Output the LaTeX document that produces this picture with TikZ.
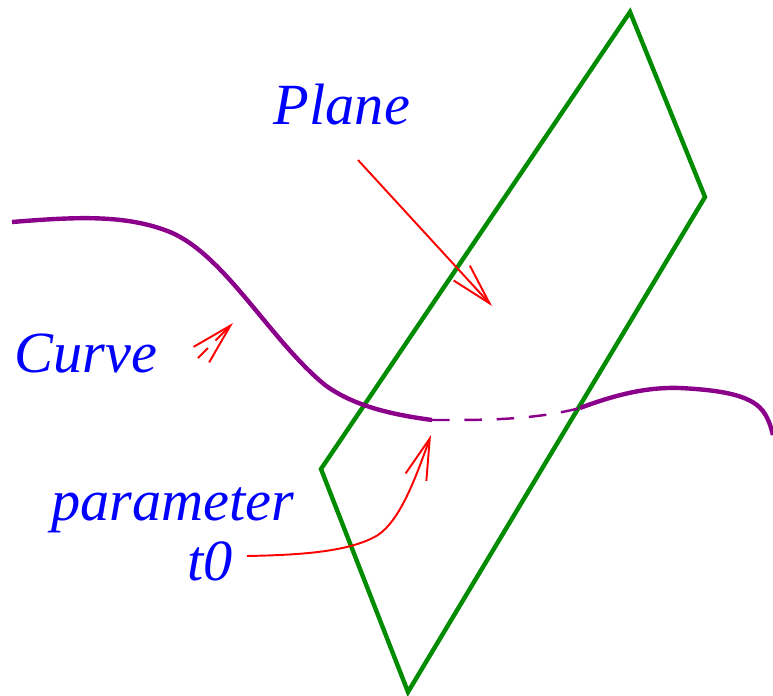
\documentclass[tikz,border=0pt]{standalone}
\usepackage{fontspec}
\setmainfont{Liberation Serif}
\usetikzlibrary{arrows.meta,positioning,calc}
\definecolor{ctPlane}{HTML}{008B00}
\definecolor{ctCurve}{HTML}{8B008B}
\definecolor{ctText}{HTML}{0000FF}
\definecolor{ctArrow}{HTML}{FF0000}

\begin{document}
\begin{tikzpicture}[scale=1.0,every node/.style={font=\fontsize{16.6pt}{20pt}\selectfont\itshape,text=ctText,inner sep=0pt,anchor=base},>={Straight Barb[length=4.1mm,width=2.2mm]}]
  \useasboundingbox (0,0) rectangle (7.73,6.95);
  % plane
  \draw[ctPlane,line width=1.25pt,line join=miter] (6.30,6.83) -- (7.05,4.98) -- (4.08,0.03) -- (3.21,2.26) -- cycle;
  % curve, in front and behind
  \draw[ctCurve,line width=1.25pt] (0.12,4.73) .. controls (0.75,4.78) and (1.25,4.81) .. (1.70,4.63)
    .. controls (2.25,4.40) and (2.70,3.55) .. (3.25,3.10)
    .. controls (3.55,2.88) and (3.95,2.80) .. (4.32,2.75);
  \draw[ctCurve,line width=0.7pt,dash pattern=on 5pt off 4.2pt] (4.32,2.75) .. controls (4.75,2.75) and (5.30,2.74) .. (5.80,2.87);
  \draw[ctCurve,line width=1.25pt] (5.80,2.87) .. controls (6.20,3.02) and (6.50,3.08) .. (6.80,3.07)
    .. controls (7.20,3.05) and (7.50,3.00) .. (7.62,2.85)
    .. controls (7.68,2.78) and (7.71,2.68) .. (7.73,2.60);
  % labels
  \node (plane) at (3.42,5.71) {Plane};
  \node (curve) at (0.86,3.23) {Curve};
  \node (param) at (1.73,1.75) {parameter};
  \node (tzero) at (2.10,1.15) {t0};
  % arrows
  \coordinate (planeA) at (3.58,5.35);
  \coordinate (planeB) at (4.92,3.89);
  \coordinate (curveA) at (1.98,3.37);
  \coordinate (curveB) at (2.33,3.72);
  \coordinate (tzeroA) at (2.47,1.39);
  \coordinate (tzeroB) at (4.31,2.60);
  \draw[ctArrow,->,line width=0.55pt] (planeA) -- (planeB);
  \draw[ctArrow,->,line width=0.55pt,dash pattern=on 4pt off 3pt on 30pt] (curveA) -- (curveB);
  \draw[ctArrow,->,line width=0.55pt] (tzeroA) .. controls (3.00,1.40) and (3.50,1.43) .. (3.78,1.60)
    .. controls (4.00,1.75) and (4.15,2.15) .. (tzeroB);
\end{tikzpicture}
\end{document}
